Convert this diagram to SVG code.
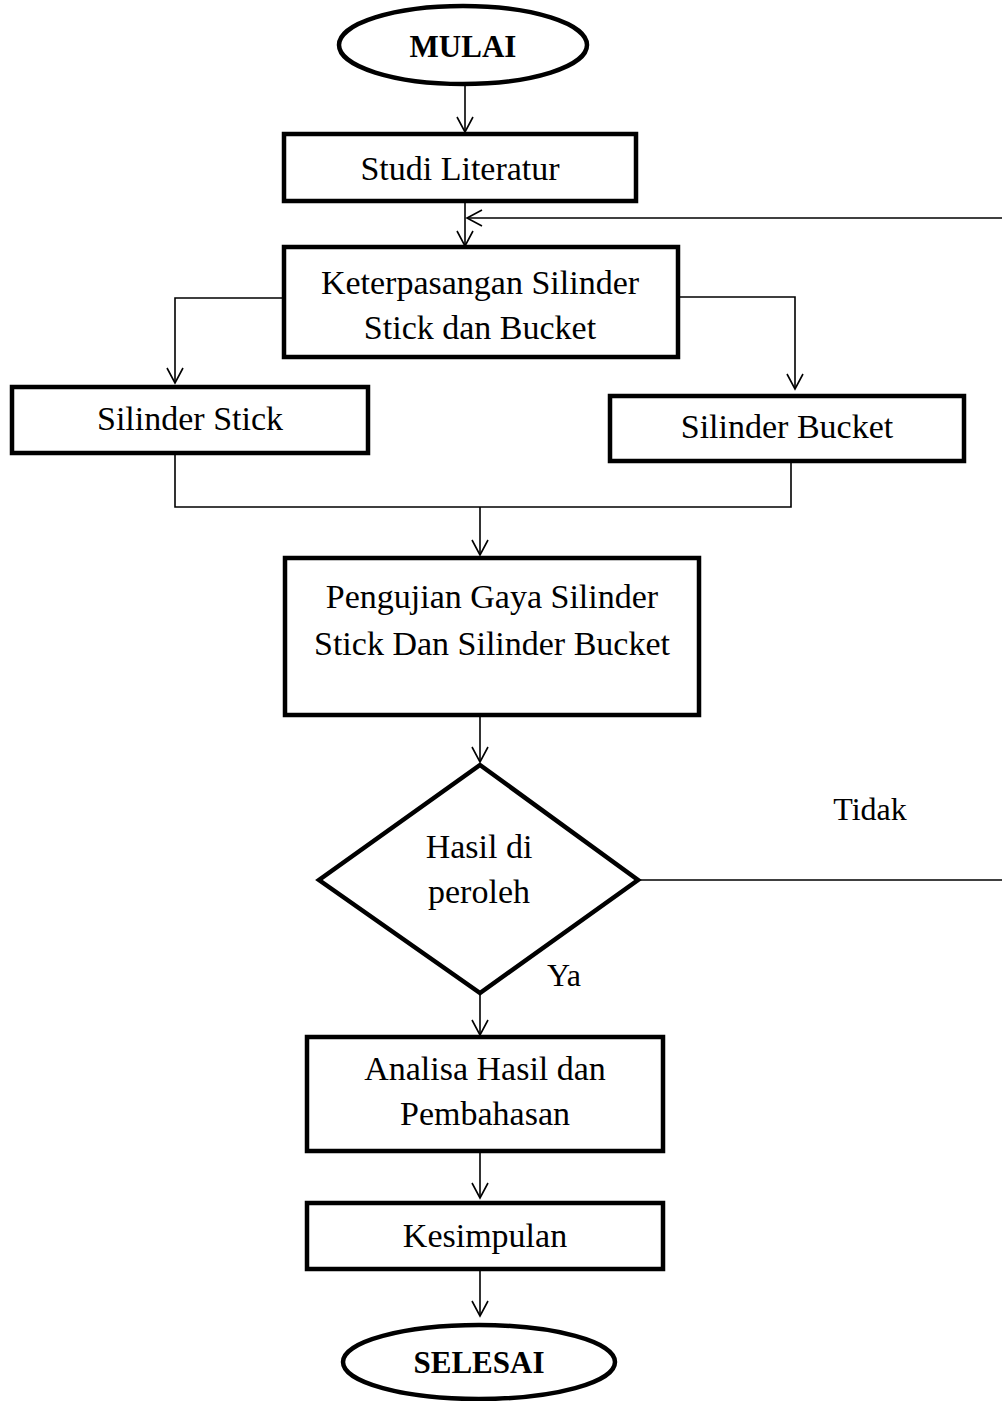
<svg xmlns="http://www.w3.org/2000/svg" width="1002" height="1401" viewBox="0 0 1002 1401">
<defs>
<style>
.n{fill:#fff;stroke:#000;stroke-width:4.5}
.c{fill:none;stroke:#000;stroke-width:1.6}
.t{font-family:"Liberation Serif","Times New Roman",serif;font-size:34px;fill:#000;text-anchor:middle}
.b{font-family:"Liberation Serif","Times New Roman",serif;font-size:31px;font-weight:bold;fill:#000;text-anchor:middle}
.l{font-family:"Liberation Serif","Times New Roman",serif;font-size:32px;fill:#000;text-anchor:middle}
</style>
<marker id="a" markerUnits="userSpaceOnUse" markerWidth="20" markerHeight="20" refX="15" refY="8" orient="auto" overflow="visible">
<path d="M0,0 L15,8 L0,16" fill="none" stroke="#000" stroke-width="1.6"/>
</marker>
</defs>
<rect width="1002" height="1401" fill="#fff"/>
<g id="connectors">
<line class="c" x1="465" y1="86" x2="465" y2="132" marker-end="url(#a)"/>
<line class="c" x1="465" y1="202" x2="465" y2="246" marker-end="url(#a)"/>
<line class="c" x1="1002" y1="218" x2="467" y2="218" marker-end="url(#a)"/>
<polyline class="c" points="284,298 175,298 175,383" marker-end="url(#a)"/>
<polyline class="c" points="679,297 795,297 795,389" marker-end="url(#a)"/>
<polyline class="c" points="175,454 175,507 791,507 791,463"/>
<line class="c" x1="480" y1="507" x2="480" y2="555" marker-end="url(#a)"/>
<line class="c" x1="480" y1="716" x2="480" y2="762" marker-end="url(#a)"/>
<line class="c" x1="640" y1="880" x2="1002" y2="880"/>
<line class="c" x1="480" y1="994" x2="480" y2="1035" marker-end="url(#a)"/>
<line class="c" x1="480" y1="1152" x2="480" y2="1198" marker-end="url(#a)"/>
<line class="c" x1="480" y1="1270" x2="480" y2="1316" marker-end="url(#a)"/>
<text class="l" x="870" y="820">Tidak</text>
<text class="l" x="564" y="986">Ya</text>
</g>
<g id="mulai">
<ellipse class="n" cx="463" cy="45" rx="124" ry="39"/>
<text class="b" x="463" y="57">MULAI</text>
</g>
<g id="studi">
<rect class="n" x="284" y="134" width="352" height="67"/>
<text class="t" x="460" y="180">Studi Literatur</text>
</g>
<g id="keterpasangan">
<rect class="n" x="284" y="247" width="394" height="110"/>
<text class="t" x="480" y="294">Keterpasangan Silinder</text>
<text class="t" x="480" y="339">Stick dan Bucket</text>
</g>
<g id="stick">
<rect class="n" x="12" y="387" width="356" height="66"/>
<text class="t" x="190" y="430">Silinder Stick</text>
</g>
<g id="bucket">
<rect class="n" x="610" y="396" width="354" height="65"/>
<text class="t" x="787" y="438">Silinder Bucket</text>
</g>
<g id="pengujian">
<rect class="n" x="285" y="558" width="414" height="157"/>
<text class="t" x="492" y="608">Pengujian Gaya Silinder</text>
<text class="t" x="492" y="655">Stick Dan Silinder Bucket</text>
</g>
<g id="hasil">
<polygon class="n" points="480,765 638,880 480,993 319,880"/>
<text class="t" x="479" y="858">Hasil di</text>
<text class="t" x="479" y="903">peroleh</text>
</g>
<g id="analisa">
<rect class="n" x="307" y="1037" width="356" height="114"/>
<text class="t" x="485" y="1080">Analisa Hasil dan</text>
<text class="t" x="485" y="1125">Pembahasan</text>
</g>
<g id="kesimpulan">
<rect class="n" x="307" y="1203" width="356" height="66"/>
<text class="t" x="485" y="1247">Kesimpulan</text>
</g>
<g id="selesai">
<ellipse class="n" cx="479" cy="1362" rx="136" ry="37"/>
<text class="b" x="479" y="1373">SELESAI</text>
</g>
</svg>
